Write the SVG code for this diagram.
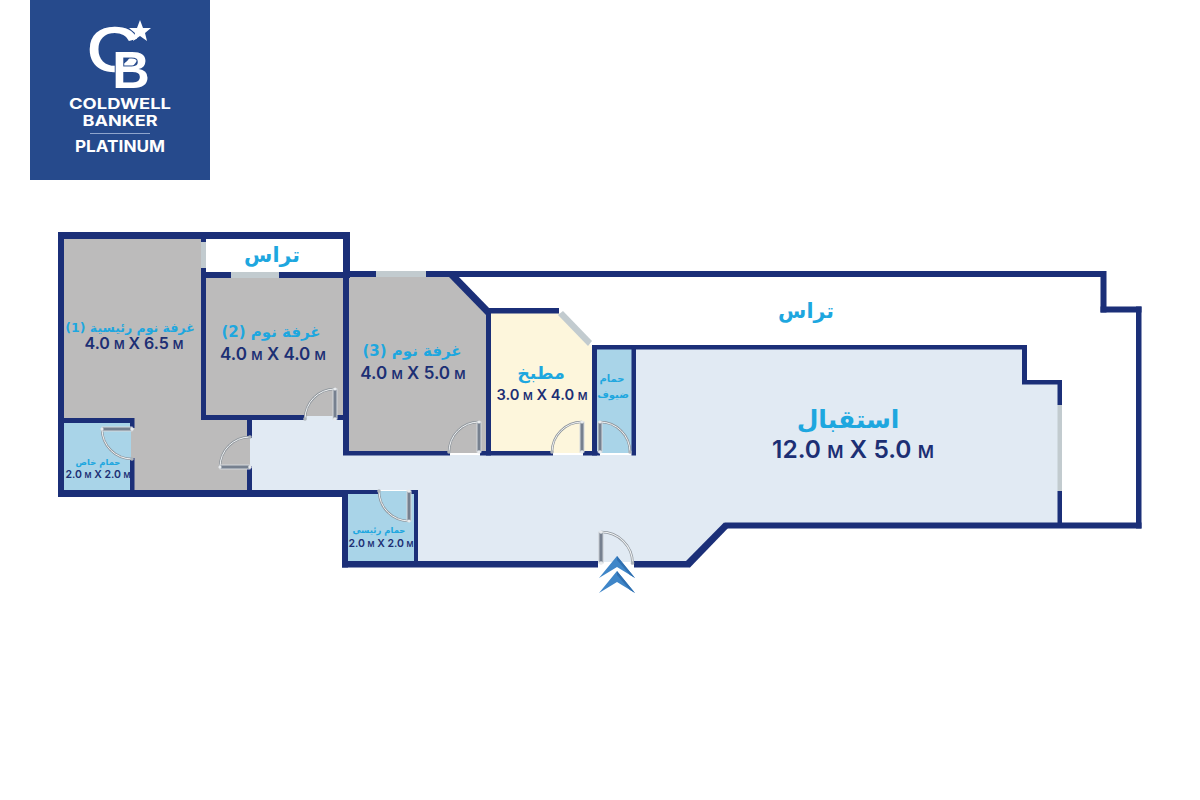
<svg xmlns="http://www.w3.org/2000/svg" width="1200" height="800" viewBox="0 0 1200 800">
<style>
.w{fill:#1b2f78}
.win{fill:#c2cbcf}
.g{fill:#bcbbbb}
.b{fill:#a9d4e8}
.k{fill:#fdf6dc}
.l{fill:#e1eaf3}
.ar{font-family:"DejaVu Sans",sans-serif;font-weight:700;fill:#1ea7df;text-anchor:middle}
.d{font-family:"Inter","Liberation Sans",sans-serif;font-weight:600;fill:#1c2f74;text-anchor:middle}
.d tspan{font-size:72%}
.lg{font-family:"Inter","Liberation Sans",sans-serif;font-weight:700;fill:#fff;text-anchor:middle}
.cb{font-family:"Liberation Sans",sans-serif;fill:#fff;text-anchor:middle}
.leaf{fill:#76808f;stroke:#d3d8dc;stroke-width:1}
.arc1{fill:none;stroke:#8e959c;stroke-width:2.4}
.arc2{fill:none;stroke:#f2f4f5;stroke-width:1}
</style>
<defs>
<g id="door">
<path class="arc1" d="M0-30A30 30 0 0 1 30 0"/>
<path class="arc2" d="M0-30A30 30 0 0 1 30 0"/>
<rect class="leaf" x="-2" y="-30" width="4" height="30"/>
<circle cx="0" cy="-30" r="1.6" fill="#e8ebee"/>
<circle cx="30" cy="0" r="1.8" fill="#aeb4ba"/>
<circle cx="0" cy="0" r="1.8" fill="#e8ebee"/>
</g>
<g id="chev"><polygon fill="#3f86c8" points="617,0 635,22 617,11 599,22"/><polygon fill="#2f6fb0" points="617,0 635,22 630,19 617,4"/></g>
</defs>

<g id="logo">
<rect x="30" y="0" width="180" height="180" fill="#264a8c"/>
<text class="cb" transform="translate(113,71) scale(1.16,1)" font-size="62" stroke="#fff" stroke-width="1.600">C</text>
<text class="cb" x="131" y="88" font-size="52" font-weight="700" stroke="#264a8c" stroke-width="2" paint-order="stroke">B</text>
<polygon fill="#fff" points="140,20 143,28 151,28 145,33 147,41 140,36 133,41 135,33 129,28 137,28"/>
<text class="lg" x="120" y="108.500" font-size="14.500" textLength="102" lengthAdjust="spacingAndGlyphs">COLDWELL</text>
<text class="lg" x="120" y="126" font-size="14.500" textLength="75" lengthAdjust="spacingAndGlyphs">BANKER</text>
<rect x="90" y="133" width="60" height="1" fill="#8fa5cc"/>
<text class="lg" x="120" y="152" font-size="16" textLength="90" lengthAdjust="spacingAndGlyphs">PLATINUM</text>
</g>

<g id="floors">
<polygon class="l" points="250,416 345,416 345,455 636,455 636,349 1022,349 1022,384 1058,384 1058,523 727,523 690,562 418,562 418,490 250,490"/>
<polygon class="g" points="64,239 203,239 203,416 250,416 250,490 64,490"/>
<rect class="g" x="206" y="278" width="139" height="138"/>
<polygon class="g" points="349,277 452,277 487,312 487,453 349,453"/>
<polygon class="k" points="491,313 560,313 592,347 592,453 491,453"/>
<rect class="b" x="597" y="349" width="35" height="104"/>
<rect class="b" x="64" y="423" width="67" height="67"/>
<rect class="b" x="348" y="491" width="66" height="70"/>
</g>

<g id="walls">
<rect class="w" x="58" y="232" width="6" height="265"/>
<rect class="w" x="58" y="232" width="292" height="7"/>
<rect class="w" x="201" y="239" width="5" height="180"/>
<rect class="w" x="343" y="232" width="7" height="46"/>
<rect class="w" x="201" y="272" width="149" height="6"/>
<rect class="w" x="201" y="415" width="104" height="5"/>
<rect class="w" x="335" y="415" width="14" height="5"/>
<rect class="w" x="247" y="420" width="5" height="18"/>
<rect class="w" x="247" y="466" width="5" height="26"/>
<rect class="w" x="58" y="418" width="76" height="5"/>
<rect class="w" x="130" y="418" width="4.500" height="10"/>
<rect class="w" x="130" y="458" width="4.500" height="34"/>
<rect class="w" x="58" y="490" width="290" height="7"/>
<rect class="w" x="343" y="271" width="763" height="6"/>
<rect class="w" x="343" y="277" width="6" height="178"/>
<rect class="w" x="343" y="451" width="107" height="4.500"/>
<polygon class="w" points="449,277 456,274 491,310 486,315"/>
<rect class="w" x="486" y="308" width="5" height="147.500"/>
<rect class="w" x="480" y="451" width="73" height="4.500"/>
<rect class="w" x="487" y="308" width="72" height="5.500"/>
<rect class="w" x="592" y="345" width="5" height="110.500"/>
<rect class="w" x="583" y="451" width="17" height="4.500"/>
<rect class="w" x="592" y="345" width="435" height="4.500"/>
<rect class="w" x="631.500" y="345" width="4.500" height="110.500"/>
<rect class="w" x="1022" y="345" width="5" height="39"/>
<rect class="w" x="1022" y="380" width="40" height="4.500"/>
<rect class="w" x="1057.500" y="380" width="4.500" height="25"/>
<rect class="w" x="1057.500" y="491" width="4.500" height="34"/>
<rect class="w" x="1100.500" y="271" width="6" height="41.500"/>
<rect class="w" x="1100.500" y="306.500" width="41" height="6"/>
<rect class="w" x="1136" y="306.500" width="5.500" height="222"/>
<rect class="w" x="725" y="522.500" width="416.500" height="6"/>
<polygon class="w" points="690,567.500 686,561 724,522.500 731,525"/>
<rect class="w" x="342" y="490" width="6" height="77.500"/>
<rect class="w" x="342" y="561" width="256" height="6.500"/>
<rect class="w" x="634" y="561" width="56" height="6.500"/>
<rect class="w" x="342" y="490" width="38" height="4"/>
<rect class="w" x="409" y="490" width="9" height="4"/>
<rect class="w" x="414" y="490" width="4" height="72"/>
</g>

<g id="windows">
<rect class="win" x="201" y="242" width="5" height="26"/>
<rect class="win" x="231" y="272" width="48" height="6"/>
<rect class="win" x="376" y="271" width="50" height="6"/>
<polygon class="win" points="563,311 592,341 588,346 558,315"/>
<rect class="win" x="1057.500" y="405" width="4.500" height="86"/>
</g>

<g id="doors">
<use href="#door" transform="translate(335,419) scale(-1,1)"/>
<use href="#door" transform="translate(479,452) scale(-1,1)"/>
<use href="#door" transform="translate(582,452) scale(-1,1)"/>
<use href="#door" transform="translate(600,452)"/>
<use href="#door" transform="translate(601,563) scale(1.05,1.03)"/>
<use href="#door" transform="translate(409,491) scale(-1,-1)"/>
<use href="#door" transform="translate(132,429) rotate(-90) scale(-1,1)"/>
<use href="#door" transform="translate(250,467) rotate(-90)"/>
</g>

<g id="entry-arrow">
<use href="#chev" transform="translate(0,556)"/>
<use href="#chev" transform="translate(0,571)"/>
</g>

<g id="terrace-top"><text class="ar" x="272" y="262" font-size="20.500">تراس</text></g>
<g id="terrace-main"><text class="ar" x="806" y="318" font-size="20.500">تراس</text></g>
<g id="bedroom-1">
<text class="ar" x="130" y="332" font-size="12.500">غرفة نوم رئيسية (1)</text>
<text class="d" x="134" y="349" font-size="16">4.0 <tspan>M</tspan> X 6.5 <tspan>M</tspan></text>
</g>
<g id="bedroom-2">
<text class="ar" x="271" y="337" font-size="15">غرفة نوم (2)</text>
<text class="d" x="273" y="360" font-size="17">4.0 <tspan>M</tspan> X 4.0 <tspan>M</tspan></text>
</g>
<g id="bedroom-3">
<text class="ar" x="412" y="356" font-size="15">غرفة نوم (3)</text>
<text class="d" x="413" y="379" font-size="17">4.0 <tspan>M</tspan> X 5.0 <tspan>M</tspan></text>
</g>
<g id="kitchen">
<text class="ar" x="541" y="379" font-size="17.500">مطبخ</text>
<text class="d" x="542" y="400" font-size="14.700">3.0 <tspan>M</tspan> X 4.0 <tspan>M</tspan></text>
</g>
<g id="guest-bath">
<text class="ar" x="612" y="382" font-size="10">حمام</text>
<text class="ar" x="613" y="398" font-size="10">ضيوف</text>
</g>
<g id="master-bath">
<text class="ar" x="98" y="465" font-size="8.500">حمام خاص</text>
<text class="d" x="98" y="478" font-size="10.500">2.0 <tspan>M</tspan> X 2.0 <tspan>M</tspan></text>
</g>
<g id="main-bath">
<text class="ar" x="379" y="533" font-size="8.500">حمام رئيسي</text>
<text class="d" x="381" y="547" font-size="10.500">2.0 <tspan>M</tspan> X 2.0 <tspan>M</tspan></text>
</g>
<g id="reception">
<text class="ar" x="848" y="428" font-size="25">استقبال</text>
<text class="d" x="853" y="458" font-size="24.500">12.0 <tspan>M</tspan> X 5.0 <tspan>M</tspan></text>
</g>
</svg>
